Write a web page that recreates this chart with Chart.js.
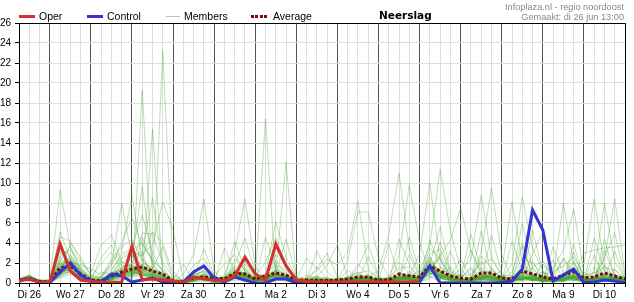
<!DOCTYPE html>
<html><head><meta charset="utf-8">
<script src="https://cdn.jsdelivr.net/npm/chart.js@4/dist/chart.umd.min.js"></script>
<style>
html,body{margin:0;padding:0;background:#fff;}
#wrap{position:relative;width:634px;height:302px;overflow:hidden;font-family:"Liberation Sans",Arial,sans-serif;}
canvas{position:absolute;left:0;top:0;}
.t{position:absolute;white-space:nowrap;line-height:1;color:#000;}
.sw{position:absolute;}
</style></head><body>
<div id="wrap">
<canvas id="c" width="634" height="302"></canvas>
<div class="sw" style="left:19px;top:15px;width:16px;height:3px;background:#d43030"></div>
<div class="t" style="left:39px;top:11px;font-size:10.5px">Oper</div>
<div class="sw" style="left:87px;top:15px;width:16px;height:3px;background:#3434d2"></div>
<div class="t" style="left:107px;top:11px;font-size:10.5px">Control</div>
<div class="sw" style="left:166px;top:16px;width:14px;height:1px;background:#a2d492"></div>
<div class="t" style="left:184px;top:11px;font-size:10.5px">Members</div>
<div class="sw" style="left:251px;top:15px;width:16px;height:3px;background:repeating-linear-gradient(90deg,#7a0a0a 0 3px,transparent 3px 4.4px)"></div>
<div class="t" style="left:273px;top:11px;font-size:10.5px">Average</div>
<div class="t" style="left:379px;top:10px;font-size:10.5px;font-weight:bold;font-family:'DejaVu Sans',sans-serif">Neerslag</div>
<div class="t" style="right:10px;top:3px;font-size:9.2px;color:#888;text-align:right">Infoplaza.nl - regio noordoost</div>
<div class="t" style="right:10px;top:13px;font-size:9.2px;color:#888;text-align:right">Gemaakt: di 26 jun 13:00</div>
</div>
<script>
const days = ['Di 26','Wo 27','Do 28','Vr 29','Za 30','Zo 1','Ma 2','Di 3','Wo 4','Do 5','Vr 6','Za 7','Zo 8','Ma 9','Di 10','Wo 11'];
const hours = ['00:00','06:00','12:00','18:00'];
const timeLabels = [];
days.forEach((d, i) => hours.forEach(h => timeLabels.push(d + ' ' + h)));
timeLabels.splice(0, 1);            // forecast starts Di 26 06:00
timeLabels.splice(60);              // ends Wo 11 00:00

const yTicks = [0,2,4,6,8,10,12,14,16,18,20,22,24,26];

const oper = [0.2,0.45,0.05, 0.05,3.9,1.2,0.3, 0.15,0.05,0.05,0.1, 3.7,0.3,0.4,0.3, 0.2,0.05,0.6,0.4, 0.3,0.2,0.7,2.6, 0.9,0.3,3.9,1.7, 0.3,0.15,0.1,0.1, 0.1,0.1,0.1,0.1, 0.1,0.1,0.1,0.1, 0.1,null,null,null, null,null,null,null, null,null,null,null, null,null,null,null, null,null,null,null, null];

const control = [0.3,0.4,0.1, 0.05,1.1,2.0,0.8, 0.2,0.05,0.9,0.7, 0.1,0.3,0.5,0.1, 0.0,0.05,1.1,1.7, 0.5,0.1,0.6,0.3, 0.0,0.0,0.4,0.4, 0.0,0.05,0.05,0.05, 0.05,0.05,0.05,0.05, 0.05,0.05,0.05,0.05, 0.1,1.7,0.0,0.0, 0.0,0.0,0.0,0.0, 0.05,0.2,1.4,7.3, 5.3,0.2,0.8,1.4, 0.05,0.1,0.3,0.2, 0.0];

const average = [0.3,0.45,0.15, 0.1,1.5,1.7,0.9, 0.3,0.2,0.7,1.1, 1.4,1.6,1.2,0.9, 0.2,0.1,0.5,0.6, 0.5,0.4,1.0,0.9, 0.4,0.7,1.0,0.8, 0.3,0.3,0.25,0.25, 0.3,0.4,0.6,0.6, 0.3,0.3,0.9,0.7, 0.6,1.7,1.2,0.7, 0.5,0.4,1.0,1.0, 0.5,0.4,1.2,0.9, 0.6,0.4,0.8,1.1, 0.5,0.6,1.0,0.7, 0.4];

const members = [
[0.2,0.6,0.1, 0.0,1.0,2.2,0.9, 0.2,0.0,0.4,1.2, 2.0,3.1,0.1,23.2, 1.2,0.0,0.2,0.6, 0.1,0.0,0.6,1.1, 0.3,0.2,0.8,0.4, 0.0,0.1,0.3,0.0, 0.2,0.0,0.5,0.2, 0.1,0.0,0.3,0.9, 0.4,2.1,0.6,0.2, 0.0,0.3,1.5,0.7, 0.2,0.0,0.9,2.2, 0.3,0.1,0.2,0.5, 0.0,0.4,1.8,0.6, 0.2],
[0.3,0.4,0.2, 0.1,2.1,1.4,0.5, 0.3,0.2,1.1,0.6, 0.0,19.3,0.4,0.2, 0.0,0.1,0.6,0.3, 0.0,0.2,1.4,0.5, 0.1,0.9,1.2,0.3, 0.2,0.0,0.1,0.4, 0.0,0.3,0.2,0.6, 0.0,0.2,0.5,0.2, 0.1,1.4,2.5,0.4, 0.3,0.0,0.2,1.3, 0.6,0.2,0.4,0.8, 1.1,0.2,0.3,0.7, 0.1,0.0,0.6,1.4, 0.3],
[0.4,0.7,0.1, 0.0,1.6,2.8,1.2, 0.1,0.3,0.2,1.5, 1.8,0.6,15.4,0.6, 0.1,0.0,0.4,1.0, 0.3,0.1,0.9,0.4, 0.6,0.3,1.7,0.9, 0.1,0.3,0.0,0.2, 0.1,0.0,0.9,0.4, 0.2,0.0,1.1,0.3, 0.2,0.8,1.6,0.9, 0.4,0.2,0.7,0.3, 0.0,0.4,1.9,0.6, 0.2,0.5,0.1,1.3, 0.4,0.2,0.3,0.8, 0.5],
[0.2,0.5,0.3, 0.2,0.8,1.9,1.4, 0.5,0.1,0.6,0.9, 1.2,0.7,0.9,0.4, 0.0,0.2,0.8,0.5, 0.1,0.3,1.6,0.8, 0.4,16.4,0.6,0.3, 0.0,0.2,0.4,0.1, 0.3,0.1,0.2,0.9, 0.0,0.4,0.2,0.6, 0.3,2.6,0.5,0.1, 0.2,0.6,0.3,0.9, 0.4,0.1,0.6,0.3, 0.2,0.8,2.4,0.6, 0.1,0.3,1.2,0.4, 0.6],
[0.3,0.3,0.1, 0.1,1.3,1.2,0.6, 0.2,0.4,0.8,2.2, 1.5,1.1,0.6,0.3, 0.2,0.0,0.3,0.9, 0.2,0.6,0.4,1.9, 0.2,0.6,1.1,12.1, 0.4,0.0,0.2,0.3, 0.0,0.5,0.4,0.1, 0.3,0.1,0.8,0.4, 0.0,1.1,0.3,1.6, 0.6,0.1,0.4,0.2, 0.3,0.6,0.2,1.5, 0.4,0.1,0.9,0.3, 0.7,0.1,0.5,0.2, 0.1],
[0.2,0.8,0.2, 0.3,9.3,3.6,1.1, 0.2,0.0,0.3,0.7, 0.9,1.6,1.0,0.8, 0.1,0.1,0.2,0.4, 0.4,0.0,0.5,0.3, 0.1,0.4,0.3,0.7, 0.2,0.1,0.0,0.2, 0.1,0.6,0.3,0.2, 0.4,0.2,0.1,1.2, 0.5,1.8,0.9,0.3, 0.1,0.4,2.2,0.5, 0.2,0.3,0.4,0.6, 0.1,0.3,0.6,2.0, 0.3,0.6,0.2,0.4, 0.2],
[0.3,0.4,0.0, 0.0,0.9,1.1,0.8, 0.4,0.6,2.1,3.2, 8.8,2.2,1.4,0.6, 0.3,0.0,0.5,1.3, 0.2,0.4,1.1,0.6, 0.3,0.2,0.9,0.6, 0.1,0.4,0.2,0.0, 0.2,0.1,0.6,0.5, 0.1,0.6,0.4,0.3, 0.2,0.9,1.3,0.5, 0.8,0.2,0.3,0.6, 0.1,0.2,1.0,0.4, 0.5,0.2,0.3,0.9, 0.2,1.1,0.4,0.3, 0.3],
[0.4,0.6,0.2, 0.1,1.1,2.4,0.6, 0.1,0.2,0.9,1.4, 2.5,9.6,1.8,0.9, 0.2,0.3,0.4,0.6, 0.1,0.2,0.7,1.4, 0.5,0.3,1.4,0.8, 0.3,0.2,0.6,0.2, 0.4,0.3,0.1,0.4, 0.2,0.1,0.6,0.9, 0.3,1.5,0.8,0.6, 0.2,0.5,0.9,0.3, 0.4,0.3,0.8,0.5, 0.9,0.4,0.2,0.6, 0.4,0.2,0.8,0.5, 0.1],
[0.1,0.5,0.1, 0.0,1.4,1.9,0.9, 0.3,0.5,1.8,8.0, 2.6,3.2,8.5,1.6, 0.2,0.1,0.7,0.4, 0.3,0.1,1.2,0.8, 0.2,0.8,0.5,0.4, 0.1,0.3,0.1,0.3, 0.0,0.2,0.7,0.3, 0.2,0.3,0.2,0.5, 0.6,2.3,1.1,0.2, 0.3,0.1,0.6,1.1, 0.2,0.4,0.3,0.7, 0.3,0.6,0.4,0.2, 0.6,0.3,1.5,0.3, 0.4],
[0.3,0.4,0.1, 0.2,1.8,2.0,0.7, 0.2,0.1,0.5,1.1, 1.7,2.9,3.8,8.1, 5.3,0.4,0.2,0.8, 0.1,0.5,0.9,0.5, 0.4,0.2,0.8,0.6, 0.2,0.0,0.3,0.6, 0.1,0.4,0.2,0.7, 0.3,0.1,0.5,0.4, 0.2,1.6,0.4,0.3, 0.1,0.3,0.5,0.8, 0.3,0.1,0.5,0.2, 0.4,0.2,0.7,1.1, 0.2,0.5,0.3,0.6, 0.3],
[0.2,0.7,0.2, 0.1,2.6,1.7,1.0, 0.4,0.2,0.3,0.9, 1.1,0.8,0.4,0.3, 0.1,0.9,2.8,8.4, 1.2,0.3,0.6,0.9, 0.1,0.5,0.7,0.4, 0.3,0.1,0.5,0.2, 0.3,0.2,0.4,0.3, 0.0,0.2,0.3,0.7, 0.4,1.2,0.6,0.4, 0.2,0.3,0.8,0.6, 0.5,0.3,0.4,0.9, 0.2,0.3,0.5,0.7, 0.3,0.4,0.6,0.2, 0.2],
[0.3,0.5,0.1, 0.0,1.2,1.5,0.8, 0.2,0.3,0.6,0.7, 0.9,1.3,0.7,0.4, 0.2,0.0,0.4,0.6, 0.3,0.8,3.2,8.4, 1.6,0.4,0.9,0.5, 0.2,0.3,0.1,0.3, 0.2,0.1,0.3,0.5, 0.2,0.4,0.7,0.3, 0.1,1.9,0.5,0.3, 0.4,0.2,0.6,0.4, 0.1,0.3,0.7,0.2, 0.3,0.2,0.4,0.5, 0.1,0.3,0.9,0.4, 0.2],
[0.2,0.4,0.2, 0.1,0.7,1.3,0.5, 0.1,0.0,0.4,0.6, 0.8,1.0,0.5,0.2, 0.0,0.1,0.3,0.4, 0.2,0.1,0.5,0.7, 0.3,0.2,0.6,0.3, 0.1,0.6,1.2,2.4, 1.8,3.1,8.2,1.4, 0.5,0.2,0.4,0.3, 0.2,1.3,0.7,0.5, 0.3,0.1,0.4,0.6, 0.2,0.1,0.4,0.3, 0.6,0.2,0.3,0.8, 0.2,0.1,0.4,0.6, 0.2],
[0.3,0.6,0.1, 0.2,1.5,1.8,0.9, 0.3,0.1,0.2,0.5, 0.7,0.9,0.6,0.3, 0.1,0.0,0.2,0.5, 0.4,0.2,0.8,0.6, 0.2,0.3,0.4,0.6, 0.1,0.2,0.4,0.1, 0.3,2.2,7.1,7.1, 2.5,0.6,0.3,0.8, 0.4,1.7,0.9,0.3, 0.2,0.4,0.5,0.3, 0.2,0.3,0.6,0.4, 0.2,0.3,0.8,0.5, 0.4,0.2,0.3,0.9, 0.1],
[0.2,0.3,0.1, 0.0,0.9,1.4,0.6, 0.2,0.3,0.7,1.2, 1.4,1.1,0.8,0.4, 0.2,0.1,0.6,0.5, 0.1,0.3,0.7,0.9, 0.4,0.6,0.8,0.5, 0.2,0.1,0.3,0.2, 0.1,0.0,0.2,0.6, 1.2,4.8,11.0,3.4, 0.8,1.4,0.6,0.2, 0.3,0.2,0.4,0.7, 0.4,0.1,0.9,0.5, 0.2,0.4,0.3,0.6, 0.3,0.2,0.5,0.4, 0.2],
[0.4,0.5,0.2, 0.1,1.7,2.2,1.3, 0.5,0.2,0.4,0.8, 1.0,1.5,1.2,0.5, 0.1,0.2,0.3,0.7, 0.2,0.4,1.3,0.7, 0.2,0.4,1.0,0.6, 0.3,0.2,0.0,0.4, 0.2,0.5,0.3,0.2, 0.1,0.6,2.7,9.8, 4.1,0.9,1.2,0.6, 0.2,0.3,0.7,0.4, 0.3,0.2,1.1,0.6, 0.3,0.5,0.2,0.4, 0.2,0.6,0.3,0.5, 0.4],
[0.1,0.4,0.1, 0.0,0.6,1.1,0.7, 0.1,0.2,0.5,0.9, 1.3,0.8,0.7,0.3, 0.0,0.1,0.5,0.3, 0.2,0.1,0.6,0.5, 0.3,0.2,0.5,0.7, 0.2,0.3,0.2,0.1, 0.4,0.1,0.5,0.4, 0.2,0.1,0.4,0.6, 1.2,3.8,11.4,5.2, 1.4,0.3,0.5,0.9, 0.2,0.4,0.7,0.3, 0.5,0.3,0.6,0.4, 0.2,0.3,0.7,0.5, 0.3],
[0.3,0.6,0.3, 0.2,1.0,1.6,0.8, 0.3,0.1,0.3,0.6, 0.8,1.2,0.9,0.6, 0.2,0.0,0.4,0.6, 0.3,0.2,0.9,1.1, 0.4,0.6,0.7,0.3, 0.1,0.4,0.6,0.3, 0.2,0.3,0.1,0.3, 0.4,0.2,0.5,0.7, 2.9,10.0,2.2,0.8, 0.5,1.6,0.4,0.3, 0.2,0.6,0.3,0.8, 0.2,0.1,0.4,0.7, 0.5,0.3,0.2,0.6, 0.2],
[0.2,0.5,0.0, 0.1,1.3,1.8,0.9, 0.2,0.4,1.0,1.3, 1.6,1.9,0.8,0.6, 0.3,0.1,0.6,0.4, 0.2,0.3,1.0,0.8, 0.5,0.4,1.2,0.7, 0.3,0.2,0.1,0.2, 0.3,0.4,0.6,0.3, 0.2,0.3,0.6,0.4, 0.3,1.1,2.7,4.3, 7.5,3.2,1.1,0.5, 0.3,0.2,0.5,0.4, 0.1,0.3,0.8,0.6, 0.4,0.2,0.6,0.3, 0.5],
[0.3,0.4,0.2, 0.0,1.1,1.3,0.5, 0.2,0.0,0.6,1.0, 1.1,0.9,0.6,0.2, 0.1,0.2,0.5,0.8, 0.4,0.1,0.7,0.6, 0.2,0.3,0.9,0.5, 0.2,0.1,0.3,0.5, 0.1,0.2,0.4,0.2, 0.3,0.5,0.4,0.6, 0.2,1.3,0.5,0.6, 1.4,2.3,8.8,2.6, 0.7,0.3,1.3,0.6, 0.4,0.2,0.5,0.9, 0.3,0.6,0.4,0.5, 0.6],
[0.2,0.6,0.1, 0.1,1.9,2.5,1.1, 0.4,0.2,0.4,0.8, 1.2,1.4,1.1,0.7, 0.2,0.1,0.3,0.5, 0.2,0.4,1.1,0.8, 0.3,0.5,0.6,0.4, 0.1,0.2,0.4,0.2, 0.2,0.1,0.3,0.6, 0.1,0.3,0.5,0.3, 0.4,2.0,1.2,0.4, 0.2,0.5,3.1,9.5, 2.8,0.4,0.5,0.3, 0.6,0.4,0.2,0.8, 0.2,0.5,0.3,0.4, 0.3],
[0.1,0.3,0.1, 0.0,0.8,1.2,0.7, 0.2,0.1,0.3,0.9, 1.3,1.0,0.5,0.4, 0.1,0.0,0.7,0.6, 0.1,0.2,0.8,0.4, 0.3,0.2,0.7,0.6, 0.2,0.3,0.5,0.1, 0.3,0.2,0.4,0.5, 0.1,0.2,0.3,0.5, 0.2,1.0,0.6,0.3, 0.4,0.2,0.6,0.5, 1.3,8.1,2.1,0.7, 0.3,0.5,0.4,0.6, 0.2,0.4,0.5,0.3, 0.2],
[0.3,0.5,0.2, 0.1,1.4,2.0,0.8, 0.3,0.2,0.8,1.6, 1.7,1.3,0.9,0.5, 0.2,0.1,0.4,0.7, 0.3,0.1,1.2,0.9, 0.4,0.3,1.1,0.6, 0.2,0.4,0.3,0.2, 0.1,0.3,0.6,0.4, 0.2,0.1,0.7,0.5, 0.3,1.6,0.7,0.5, 0.2,0.3,0.8,0.6, 0.4,1.9,8.6,3.5, 1.2,0.4,0.6,0.3, 0.5,0.3,0.8,0.4, 0.3],
[0.2,0.4,0.1, 0.2,1.2,1.6,1.0, 0.3,0.1,0.5,1.1, 1.4,1.7,1.0,0.3, 0.2,0.0,0.5,0.6, 0.2,0.3,1.0,0.7, 0.3,0.4,1.3,0.8, 0.3,0.2,0.1,0.4, 0.2,0.1,0.5,0.3, 0.3,0.2,0.6,0.4, 0.5,1.2,0.9,0.6, 0.3,0.1,0.7,0.4, 0.2,0.3,0.9,1.6, 2.2,0.6,8.0,1.9, 0.4,0.3,0.6,0.5, 0.2],
[0.3,0.7,0.2, 0.1,1.0,1.4,0.6, 0.1,0.3,0.6,0.9, 1.1,1.4,0.8,0.4, 0.1,0.2,0.3,0.5, 0.3,0.2,0.9,1.0, 0.2,0.3,0.8,0.5, 0.1,0.3,0.2,0.3, 0.4,0.2,0.3,0.7, 0.2,0.4,0.5,0.6, 0.3,1.4,0.8,0.4, 0.2,0.6,0.5,0.3, 0.5,0.2,0.4,0.6, 0.3,1.5,3.3,7.4, 1.1,0.3,0.7,0.4, 0.3],
[0.4,0.6,0.1, 0.0,1.6,2.1,1.2, 0.4,0.2,0.4,0.7, 0.9,1.2,1.3,0.6, 0.3,0.1,0.6,0.4, 0.2,0.5,1.4,0.6, 0.4,0.2,0.9,0.7, 0.2,0.1,0.3,0.2, 0.2,0.4,0.2,0.4, 0.3,0.2,0.4,0.3, 0.2,1.8,1.0,0.7, 0.3,0.4,0.9,0.5, 0.3,0.2,0.8,0.4, 0.6,0.3,0.5,0.8, 1.9,8.4,1.7,0.6, 0.4],
[0.2,0.5,0.2, 0.1,2.3,1.8,0.9, 0.2,0.4,0.9,1.4, 1.5,1.0,0.7,0.5, 0.1,0.2,0.4,0.6, 0.3,0.3,0.8,0.5, 0.3,0.6,1.0,0.4, 0.1,0.2,0.4,0.3, 0.2,0.3,0.5,0.2, 0.4,0.1,0.6,0.7, 0.3,1.5,1.1,0.4, 0.2,0.3,0.6,0.7, 0.4,0.3,0.6,0.5, 0.2,0.4,0.7,0.5, 0.3,1.2,8.0,2.1, 0.5],
[0.3,0.4,0.1, 0.2,0.9,1.5,0.7, 0.2,0.1,0.5,0.8, 1.0,1.2,0.6,0.4, 0.2,0.1,0.3,0.5, 0.2,0.1,0.6,0.8, 0.3,0.4,0.7,0.6, 0.3,0.2,0.1,0.2, 0.3,0.1,0.4,0.5, 0.2,0.3,0.4,0.8, 0.4,1.3,0.5,0.3, 0.4,0.2,0.5,0.8, 0.3,0.4,0.7,0.3, 0.5,0.2,0.9,0.6, 0.3,0.5,2.4,8.4, 0.9],
[0.2,0.6,0.2, 0.1,1.3,1.7,0.8, 0.3,0.2,0.6,1.0, 1.2,1.5,0.9,0.6, 0.2,0.1,0.4,0.7, 0.2,0.3,1.0,0.7, 0.2,0.5,0.8,0.5, 0.2,0.3,0.2,0.1, 0.2,0.3,0.4,0.3, 0.1,0.3,0.5,0.4, 0.2,1.7,0.8,0.5, 0.3,0.2,0.7,0.6, 0.2,0.3,0.6,0.4, 0.3,0.4,0.6,0.5, 3.0,3.3,3.5,3.6, 3.8],
[0.3,0.5,0.1, 0.0,4.6,4.2,2.2, 1.0,3.8,4.8,2.1, 0.8,2.5,1.1,0.4, 0.1,0.0,0.3,0.5, 0.2,0.2,0.9,0.6, 0.2,0.4,0.9,0.5, 0.3,2.5,1.4,3.0, 0.6,0.3,0.4,0.6, 0.2,0.1,0.5,0.4, 0.3,1.8,0.7,0.4, 0.2,0.4,0.6,0.5, 0.3,0.2,0.5,0.6, 0.4,0.3,0.5,0.8, 0.2,0.4,0.6,0.3, 0.1],
[0.2,0.3,0.0, 0.3,3.5,2.8,1.6, 0.6,1.9,3.1,1.2, 0.5,4.6,2.0,0.7, 0.0,0.1,0.2,0.3, 0.1,0.0,2.4,1.5, 0.2,0.3,0.5,0.4, 0.1,0.0,0.2,0.1, 0.0,0.1,0.2,2.6, 0.6,0.1,0.2,0.3, 0.1,0.4,4.1,1.2, 0.3,0.1,0.2,4.8, 0.9,0.2,0.3,0.4, 0.2,3.6,0.9,0.3, 0.1,0.2,4.4,0.6, 0.2],
[0.4,0.7,0.3, 0.2,2.7,3.3,2.0, 0.8,0.6,2.4,3.6, 4.4,2.2,1.3,0.9, 0.3,0.1,1.8,2.5, 0.6,1.9,2.8,1.2, 0.3,0.7,2.2,1.0, 0.2,0.1,1.6,0.4, 0.2,0.6,1.1,0.3, 0.1,0.2,2.1,0.9, 0.4,4.3,1.6,0.7, 2.4,0.6,0.4,1.5, 0.3,0.2,3.7,0.8, 0.6,0.2,0.3,3.9, 0.4,1.6,0.3,0.5, 0.3],
[0.1,0.2,0.1, 0.0,0.7,4.0,2.6, 0.7,0.3,1.2,2.9, 3.5,6.8,3.0,1.1, 0.4,0.0,0.6,3.4, 0.8,0.2,0.7,2.3, 0.6,2.1,4.5,1.8, 0.4,0.0,0.3,0.2, 0.1,1.3,0.4,0.2, 0.0,0.3,0.5,2.8, 0.6,2.2,0.4,3.2, 0.5,1.4,0.3,0.2, 0.1,4.2,1.2,0.3, 0.2,0.3,2.5,1.1, 0.2,4.5,1.2,0.4, 0.2],
[0.5,0.8,0.2, 0.4,3.1,2.1,1.8, 1.4,0.8,1.7,4.1, 6.5,3.8,2.4,1.2, 0.2,0.3,0.9,1.1, 0.3,0.6,1.8,4.5, 1.1,0.5,2.8,2.0, 0.3,0.8,0.4,0.1, 0.5,0.2,1.5,3.9, 0.7,0.3,1.0,0.6, 0.2,3.5,2.4,0.8, 0.4,3.3,0.9,0.6, 0.2,0.3,0.5,2.9, 5.1,0.4,0.2,0.6, 0.2,0.3,2.6,5.0, 0.6],
[0.3,0.4,0.1, 0.1,2.2,3.7,1.4, 0.3,2.5,3.8,1.7, 1.9,5.0,4.9,2.0, 0.6,0.2,0.5,0.9, 0.1,3.5,1.2,0.8, 0.2,4.6,1.5,0.7, 0.1,0.3,3.2,1.1, 0.2,0.4,0.8,0.6, 0.3,0.1,4.4,1.9, 0.3,1.9,5.6,1.4, 0.3,0.2,2.7,1.5, 0.4,0.6,0.3,5.3, 1.1,0.2,0.6,2.2, 0.3,0.4,0.5,3.2, 0.3],
[0.2,0.6,0.2, 0.2,1.5,2.6,1.0, 0.2,1.1,0.9,2.4, 3.1,2.7,5.1,4.0, 0.9,0.2,0.4,1.6, 0.5,0.3,0.6,0.7, 0.4,0.9,6.1,2.6, 0.5,0.2,0.6,1.8, 3.8,0.6,0.3,0.2, 0.4,0.5,0.6,0.8, 0.5,2.6,1.0,0.3, 0.6,4.9,1.3,0.4, 0.3,1.1,4.0,0.6, 0.3,2.3,0.4,0.5, 0.6,0.2,3.3,0.7, 0.2],
[0.3,0.5,0.1, 0.0,5.1,2.3,0.8, 0.1,0.5,0.7,1.9, 2.8,1.7,1.4,3.6, 0.3,1.9,0.2,0.5, 0.2,0.4,4.2,1.3, 0.3,0.7,0.9,4.4, 0.6,0.4,0.1,0.3, 0.2,0.3,1.9,0.8, 0.2,0.3,0.4,4.6, 1.2,0.6,0.7,0.5, 0.2,0.3,0.4,0.3, 0.2,0.5,6.0,1.4, 0.4,0.6,0.3,0.4, 0.2,2.8,0.4,0.6, 0.3],
[0.4,0.6,0.2, 0.3,2.0,1.1,0.5, 0.2,0.3,0.5,0.9, 1.4,1.9,1.6,0.8, 0.2,0.4,1.1,0.6, 0.2,0.6,0.8,0.7, 0.5,0.8,1.0,0.6, 0.2,0.3,0.4,0.2, 0.2,0.2,0.5,0.4, 0.2,3.9,0.6,0.4, 0.3,1.1,2.9,0.8, 0.4,0.2,5.2,0.9, 0.3,0.2,1.4,0.5, 1.9,0.7,0.4,3.1, 0.4,0.3,0.9,0.4, 0.2],
[0.2,0.3,0.0, 0.1,0.5,0.9,0.4, 0.1,0.0,0.2,0.4, 0.6,0.8,0.3,0.1, 0.0,0.0,0.1,0.2, 0.0,0.1,0.3,0.2, 0.1,0.1,0.3,0.2, 0.0,0.1,0.0,0.1, 0.0,0.1,0.2,0.1, 0.0,0.1,0.2,0.3, 0.1,0.6,0.2,0.1, 0.1,0.0,0.3,0.2, 0.1,0.0,0.2,0.3, 0.1,0.1,0.2,0.3, 0.1,0.1,0.2,0.1, 0.0],
[0.3,0.5,0.2, 0.2,1.8,2.3,1.5, 0.5,0.6,1.4,2.6, 3.3,4.0,2.2,1.3, 0.3,0.2,0.8,1.2, 0.4,0.6,1.6,2.1, 0.6,0.9,1.8,1.3, 0.3,0.5,0.7,0.4, 0.3,0.6,1.0,1.2, 0.4,0.5,1.5,1.6, 0.6,2.9,3.4,1.1, 0.7,0.9,1.9,2.4, 0.8,0.7,2.5,2.0, 0.9,1.1,1.7,2.6, 0.8,1.0,1.6,1.3, 0.5]
];

const datasets = [
  {label:'Oper', data:oper, borderColor:'#d43030', borderWidth:3},
  {label:'Control', data:control, borderColor:'#3434d2', borderWidth:3},
  {label:'Average', data:average, borderColor:'#7a0a0a', borderWidth:3, borderDash:[3,2]}
];
members.forEach((m, i) => datasets.push({label:'Member ' + (i + 1), data:m, borderColor:'rgba(60,160,35,0.34)', borderWidth:1}));

const frame = {
  id:'frame',
  afterDatasetsDraw(chart){
    const {ctx, chartArea:a} = chart;
    ctx.save();
    ctx.strokeStyle = '#000';
    ctx.lineWidth = 1;
    ctx.beginPath();
    ctx.moveTo(Math.round(a.left), Math.round(a.top) + 0.5);
    ctx.lineTo(Math.round(a.right) + 0.5, Math.round(a.top) + 0.5);
    ctx.lineTo(Math.round(a.right) + 0.5, Math.round(a.bottom));
    ctx.stroke();
    ctx.restore();
  }
};

const tickFont = {family:"'Liberation Sans', Arial, sans-serif", size:10};

new Chart(document.getElementById('c'), {
  type:'line',
  data:{labels:timeLabels, datasets:datasets},
  options:{
    responsive:false, animation:false, devicePixelRatio:1,
    layout:{padding:{top:23, right:9, left:0, bottom:0}},
    elements:{point:{radius:0}, line:{tension:0}},
    plugins:{legend:{display:false}, tooltip:{enabled:false}},
    scales:{
      x:{
        type:'category', offset:false,
        grid:{
          color:(c) => { const l = timeLabels[c.index] || ''; return l.endsWith('00:00') ? '#555' : '#dcdcdc'; },
          tickColor:'#000', tickLength:4, lineWidth:1
        },
        border:{color:'#000'},
        ticks:{
          autoSkip:false, maxRotation:0, minRotation:0, padding:2, color:'#000', font:tickFont,
          callback:function(v){ const l = this.getLabelForValue(v); return l.endsWith('12:00') ? l.slice(0, -6) : ''; }
        },
        afterFit:(s) => { s.height = 19; }
      },
      y:{
        min:0, max:26,
        afterBuildTicks:(s) => { s.ticks = yTicks.map(v => ({value:v})); },
        grid:{color:'#dcdcdc', tickColor:'#000', tickLength:4},
        border:{color:'#000'},
        ticks:{color:'#000', padding:4, font:tickFont},
        afterFit:(s) => { s.width = 19; }
      }
    }
  },
  plugins:[frame]
});
</script>
</body></html>
